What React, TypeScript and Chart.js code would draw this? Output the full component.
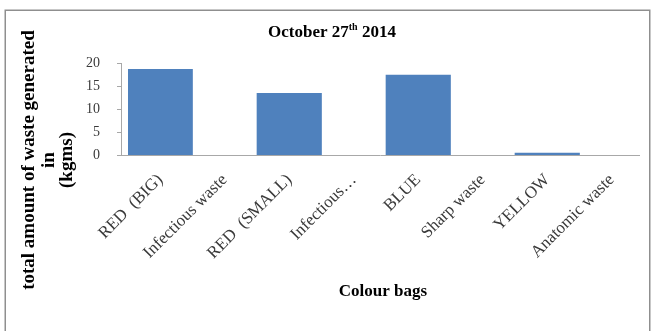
import { useEffect, useRef } from "react";
import { Chart, registerables } from "chart.js";

Chart.register(...registerables);

// Waste per colour bag (kg); the waste-type rows carry no bar of their own
const categories = [
  "RED  (BIG)",
  "Infectious waste",
  "RED  (SMALL)",
  "Infectious…",
  "BLUE",
  "Sharp waste",
  "YELLOW",
  "Anatomic waste",
];
const wasteKg: (number | null)[] = [18.6, null, 13.4, null, 17.4, null, 0.4, null];
const yTicks = [0, 5, 10, 15, 20];

const titleMain = "October 27";
const titleSup = "th";
const titleTail = " 2014";
const yTitleLines = ["total amount of waste generated", "in", "(kgms)"];
const xTitle = "Colour bags";

const SERIF = "'Liberation Serif', 'Times New Roman', serif";
const BAR = "#4f81bd";
const AXIS = "#a8a8a8";
const TEXT = "#3a3a3a";

const decor = {
  id: "decor",
  afterDraw(chart: Chart) {
    const { ctx, chartArea: a } = chart;
    const yScale = chart.scales.y;
    ctx.save();

    // outer frame
    ctx.strokeStyle = "#8f8f8f";
    ctx.lineWidth = 1.5;
    ctx.strokeRect(5.25, 10.25, 644.5, 400);

    // axis lines with outside tick marks on the value axis
    const ax = a.left - 7;
    ctx.strokeStyle = AXIS;
    ctx.lineWidth = 1;
    ctx.beginPath();
    ctx.moveTo(ax + 0.5, a.top);
    ctx.lineTo(ax + 0.5, a.bottom + 0.5);
    ctx.moveTo(ax, a.bottom + 0.5);
    ctx.lineTo(a.right - 4, a.bottom + 0.5);
    for (const v of yTicks) {
      const py = Math.round(yScale.getPixelForValue(v)) + 0.5;
      ctx.moveTo(ax - 4, py);
      ctx.lineTo(ax, py);
    }
    ctx.stroke();

    ctx.fillStyle = "#000";
    ctx.textBaseline = "alphabetic";

    // chart title with superscript ordinal
    const big = `bold 17px ${SERIF}`;
    const small = `bold 10px ${SERIF}`;
    ctx.font = big;
    const w1 = ctx.measureText(titleMain).width;
    const w3 = ctx.measureText(titleTail).width;
    ctx.font = small;
    const w2 = ctx.measureText(titleSup).width;
    let tx = 332 - (w1 + w2 + w3) / 2;
    const base = 37;
    ctx.textAlign = "left";
    ctx.font = big;
    ctx.fillText(titleMain, tx, base);
    tx += w1;
    ctx.font = small;
    ctx.fillText(titleSup, tx, base - 7);
    tx += w2;
    ctx.font = big;
    ctx.fillText(titleTail, tx, base);

    // value axis title, three rotated lines
    ctx.save();
    ctx.translate(0, 160);
    ctx.rotate(-Math.PI / 2);
    ctx.font = `bold 19px ${SERIF}`;
    ctx.textAlign = "center";
    ctx.textBaseline = "middle";
    const lineX = [29, 49, 67];
    yTitleLines.forEach((line, i) => {
      ctx.fillText(line, 0, lineX[i]);
    });
    ctx.restore();

    // category axis title
    ctx.font = `bold 17px ${SERIF}`;
    ctx.textAlign = "center";
    ctx.textBaseline = "middle";
    ctx.fillText(xTitle, (a.left + a.right) / 2 - 3, 292);

    ctx.restore();
  },
};

export default function App() {
  const ref = useRef<HTMLCanvasElement>(null);

  useEffect(() => {
    if (!ref.current) return;
    const chart = new Chart(ref.current, {
      type: "bar",
      data: {
        labels: categories,
        datasets: [
          {
            data: wasteKg,
            backgroundColor: BAR,
            borderWidth: 0,
            barPercentage: 1,
            categoryPercentage: 1,
          },
        ],
      },
      options: {
        responsive: false,
        animation: false,
        devicePixelRatio: 1,
        layout: { padding: { left: 0, right: 7, top: 63, bottom: 0 } },
        plugins: {
          legend: { display: false },
          title: { display: false },
          tooltip: { enabled: false },
        },
        scales: {
          x: {
            grid: { display: false, drawTicks: false },
            border: { display: false },
            ticks: {
              autoSkip: false,
              minRotation: 45,
              maxRotation: 45,
              padding: 15,
              color: TEXT,
              font: { family: SERIF, size: 17 },
            },
            afterFit: (s: any) => {
              s.height = 176;
            },
          },
          y: {
            min: 0,
            max: 20,
            grid: { display: false, drawTicks: false },
            border: { display: false },
            ticks: {
              padding: 28,
              color: TEXT,
              font: { family: SERIF, size: 14 },
            },
            afterBuildTicks: (s: any) => {
              s.ticks = yTicks.map((value) => ({ value }));
            },
            afterFit: (s: any) => {
              s.width = 128;
            },
          },
        },
      },
      plugins: [decor],
    });
    return () => chart.destroy();
  }, []);

  return (
    <div style={{ position: "absolute", left: 0, top: 0, width: 651, height: 331, background: "#fff" }}>
      <canvas ref={ref} width={651} height={331} />
    </div>
  );
}
